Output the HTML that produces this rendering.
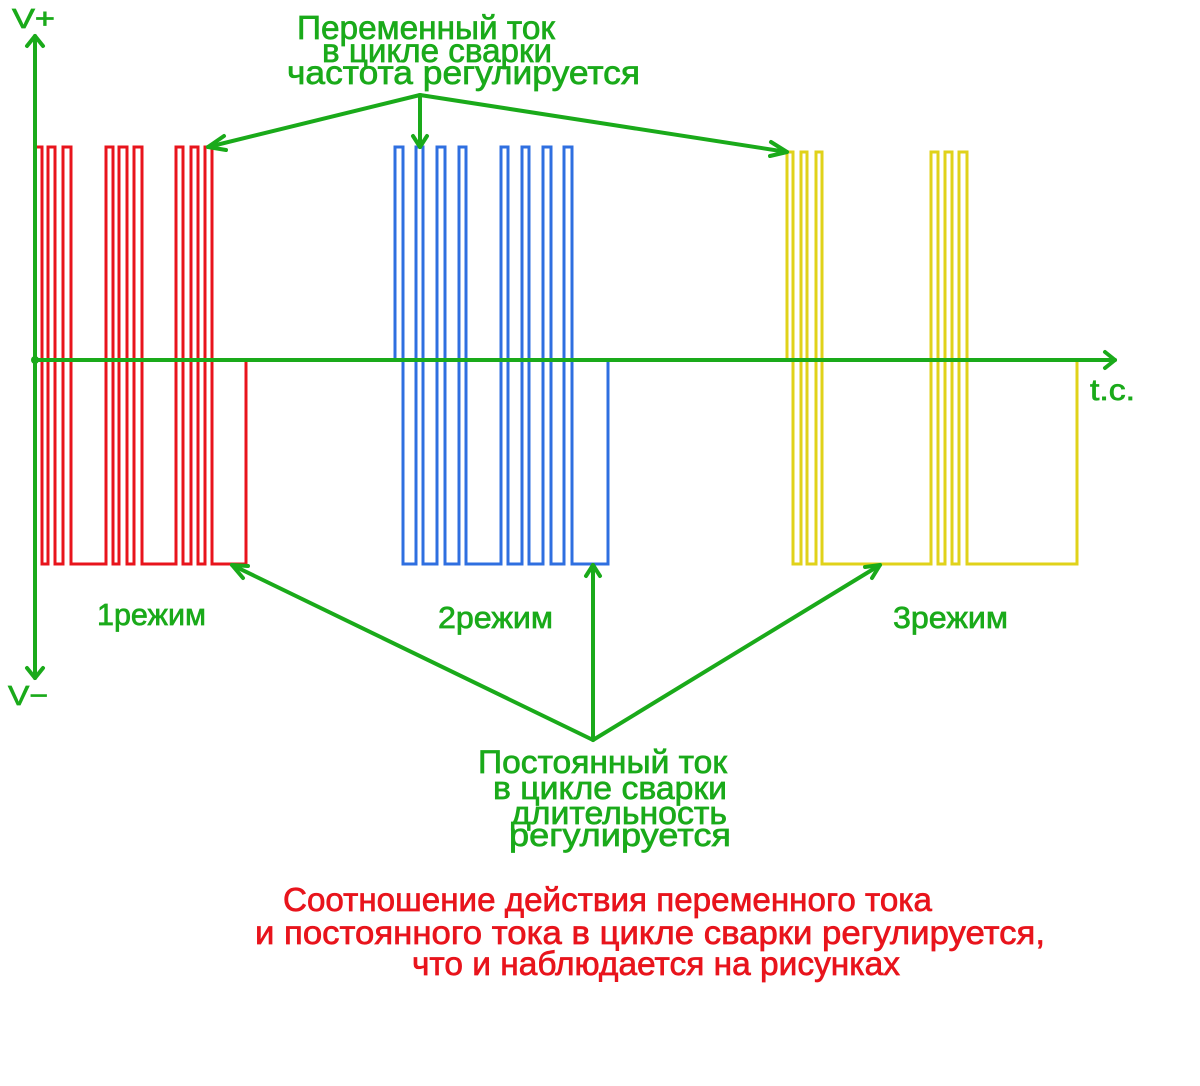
<!DOCTYPE html>
<html><head><meta charset="utf-8"><style>html,body{margin:0;padding:0;background:#fff}svg{display:block}</style></head>
<body>
<svg width="1200" height="1086" viewBox="0 0 1200 1086" xmlns="http://www.w3.org/2000/svg">
<g fill="none" stroke-width="3" stroke-linejoin="miter">
<path stroke="#e8141c" d="M35,147 H42 V564 H48 V147 H55 V564 H63 V147 H71 V564 H106 V147 H113 V564 H119 V147 H127 V564 H134 V147 H142 V564 H176 V147 H183 V564 H191 V147 H198 V564 H205 V147 H212 V564 H246 V360"/>
<path stroke="#2f6fe0" d="M395,360 V147 H403 V564 H416 V147 H423 V564 H437 V147 H445 V564 H459 V147 H466 V564 H501 V147 H508 V564 H522 V147 H529 V564 H543 V147 H551 V564 H564 V147 H572 V564 H608 V360"/>
<path stroke="#e0d21a" d="M787,360 V152 H793 V564 H801 V152 H807 V564 H816 V152 H822 V564 H931 V152 H938 V564 H945 V152 H952 V564 H959 V152 H967 V564 H1077 V360"/>
</g>
<g fill="none" stroke="#1aaa1a" stroke-width="4" stroke-linecap="round" stroke-linejoin="round">
<line x1="35" y1="36" x2="35" y2="678"/>
<polyline points="27,46 35,36 43,46"/>
<polyline points="27,668 35,678 43,668"/>
<line x1="35" y1="360" x2="1115" y2="360"/>
<polyline points="1105,352 1115,360 1105,368"/>
<line x1="420" y1="95" x2="208" y2="147"/>
<polyline points="224,136 208,147 226,150"/>
<line x1="420" y1="95" x2="420" y2="147"/>
<polyline points="413,136 420,147 427,136"/>
<line x1="420" y1="95" x2="787" y2="152"/>
<polyline points="771,142 787,152 770,156"/>
<line x1="593" y1="740" x2="232" y2="565"/>
<polyline points="248,566 232,565 243,578"/>
<line x1="593" y1="740" x2="593" y2="565"/>
<polyline points="586,576 593,565 600,576"/>
<line x1="593" y1="740" x2="880" y2="565"/>
<polyline points="865,567 880,565 872,578"/>
</g>
<circle cx="35" cy="360" r="4" fill="#1aaa1a"/>
<g font-family="Liberation Sans, sans-serif" fill="#1aaa1a" stroke="#1aaa1a" stroke-width="0.7" font-size="31">
<text x="12" y="28" font-size="28" textLength="43" lengthAdjust="spacingAndGlyphs">V+</text>
<text x="8" y="705" font-size="28" textLength="40" lengthAdjust="spacingAndGlyphs">V−</text>
<text x="1090" y="400" font-size="30" textLength="45" lengthAdjust="spacingAndGlyphs">t.c.</text>
<text x="297" y="39" font-size="33" textLength="258" lengthAdjust="spacingAndGlyphs">Переменный ток</text>
<text x="322" y="62" font-size="33" textLength="230" lengthAdjust="spacingAndGlyphs">в цикле сварки</text>
<text x="287" y="84" font-size="33" textLength="353" lengthAdjust="spacingAndGlyphs">частота регулируется</text>
<text x="97" y="625" textLength="109" lengthAdjust="spacingAndGlyphs">1режим</text>
<text x="438" y="628" textLength="115" lengthAdjust="spacingAndGlyphs">2режим</text>
<text x="893" y="628" textLength="115" lengthAdjust="spacingAndGlyphs">3режим</text>
<text x="478" y="773" font-size="32" textLength="249" lengthAdjust="spacingAndGlyphs">Постоянный ток</text>
<text x="493" y="799" font-size="32" textLength="234" lengthAdjust="spacingAndGlyphs">в цикле сварки</text>
<text x="511" y="824" font-size="32" textLength="216" lengthAdjust="spacingAndGlyphs">длительность</text>
<text x="509" y="846" font-size="32" textLength="222" lengthAdjust="spacingAndGlyphs">регулируется</text>
</g>
<g font-family="Liberation Sans, sans-serif" fill="#e8141c" stroke="#e8141c" stroke-width="0.7" font-size="33">
<text x="283" y="911" textLength="649" lengthAdjust="spacingAndGlyphs">Соотношение действия переменного тока</text>
<text x="255" y="944" textLength="790" lengthAdjust="spacingAndGlyphs">и постоянного тока в цикле сварки регулируется,</text>
<text x="412" y="975" textLength="488" lengthAdjust="spacingAndGlyphs">что и наблюдается на рисунках</text>
</g>
</svg>
</body></html>
